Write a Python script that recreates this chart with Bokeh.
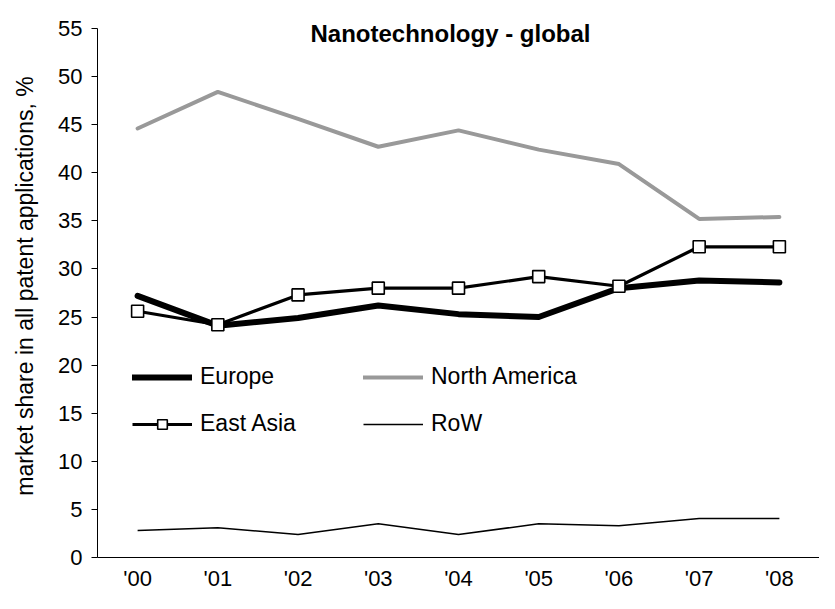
from bokeh.plotting import figure
from bokeh.models import Legend, LegendItem, Label, FactorRange, Range1d, FixedTicker
from bokeh.embed import file_html
from bokeh.resources import INLINE

years = ["'00", "'01", "'02", "'03", "'04", "'05", "'06", "'07", "'08"]
europe = [27.2, 24.1, 24.9, 26.2, 25.3, 25.0, 28.0, 28.8, 28.6]
north_america = [44.6, 48.4, 45.6, 42.7, 44.4, 42.4, 40.9, 35.2, 35.4]
east_asia = [25.6, 24.2, 27.3, 28.0, 28.0, 29.2, 28.2, 32.3, 32.3]
row = [2.8, 3.1, 2.4, 3.5, 2.4, 3.5, 3.3, 4.05, 4.05]
y_ticks = [0, 5, 10, 15, 20, 25, 30, 35, 40, 45, 50, 55]
title_text = "Nanotechnology - global"
y_label = "market share in all patent applications, %"

FONT = "Liberation Sans"

p = figure(width=819, height=593, output_backend="svg", toolbar_location=None,
           x_range=FactorRange(factors=years, range_padding=0),
           y_range=Range1d(0, 56.45))
p.min_border_left = 97
p.min_border_top = 14
p.min_border_right = 0
p.min_border_bottom = 0
p.outline_line_color = None
p.background_fill_color = "white"
p.border_fill_color = "white"
p.xgrid.grid_line_color = None
p.ygrid.grid_line_color = None

r_eu = p.line(years, europe, line_color="black", line_width=6, line_join="round", line_cap="round")
r_na = p.line(years, north_america, line_color="#999999", line_width=4, line_join="round", line_cap="round")
r_ea = p.line(years, east_asia, line_color="black", line_width=3.2, line_join="round")
r_ea_m = p.scatter(years, east_asia, marker="square", size=12, fill_color="white",
                   line_color="black", line_width=1.6)
r_row = p.line(years, row, line_color="black", line_width=1.5)

# axes
p.yaxis.bounds = (0, 55)
p.yaxis.ticker = FixedTicker(ticks=y_ticks)
p.yaxis.minor_tick_line_color = None
p.yaxis.major_tick_out = 6
p.yaxis.major_tick_in = 0
p.yaxis.major_label_standoff = 9
p.yaxis.axis_label = y_label
p.yaxis.axis_label_text_font = FONT
p.yaxis.axis_label_text_font_size = "23px"
p.yaxis.axis_label_text_font_style = "normal"
p.yaxis.axis_label_text_color = "black"
p.yaxis.axis_label_standoff = 17
for ax in (p.xaxis[0], p.yaxis[0]):
    ax.axis_line_color = "black"
    ax.axis_line_width = 1
    ax.major_tick_line_color = "black"
    ax.major_label_text_font = FONT
    ax.major_label_text_font_size = "22px"
    ax.major_label_text_color = "black"
p.xaxis.major_tick_out = 0
p.xaxis.major_tick_in = 0
p.xaxis.major_label_standoff = 8

# legends (two columns)
common = dict(border_line_color=None, background_fill_alpha=0, padding=0, margin=0,
              glyph_width=60, glyph_height=24, label_height=24, spacing=20,
              label_standoff=8, label_text_font=FONT, label_text_font_size="23px",
              label_text_color="black")
leg1 = Legend(items=[LegendItem(label="Europe", renderers=[r_eu]),
                     LegendItem(label="East Asia", renderers=[r_ea, r_ea_m])],
              location=(35, 120), **common)
leg2 = Legend(items=[LegendItem(label="North America", renderers=[r_na]),
                     LegendItem(label="RoW", renderers=[r_row])],
              location=(266, 120), **common)
p.add_layout(leg1, "center")
p.add_layout(leg2, "center")

# title inside the frame
t = Label(x=4.4, y=54.48, text=title_text, text_align="center", text_baseline="alphabetic",
          text_font=FONT, text_font_size="24px", text_font_style="bold", text_color="black")
p.add_layout(t)

open("out.html", "w").write(file_html(p, INLINE))
